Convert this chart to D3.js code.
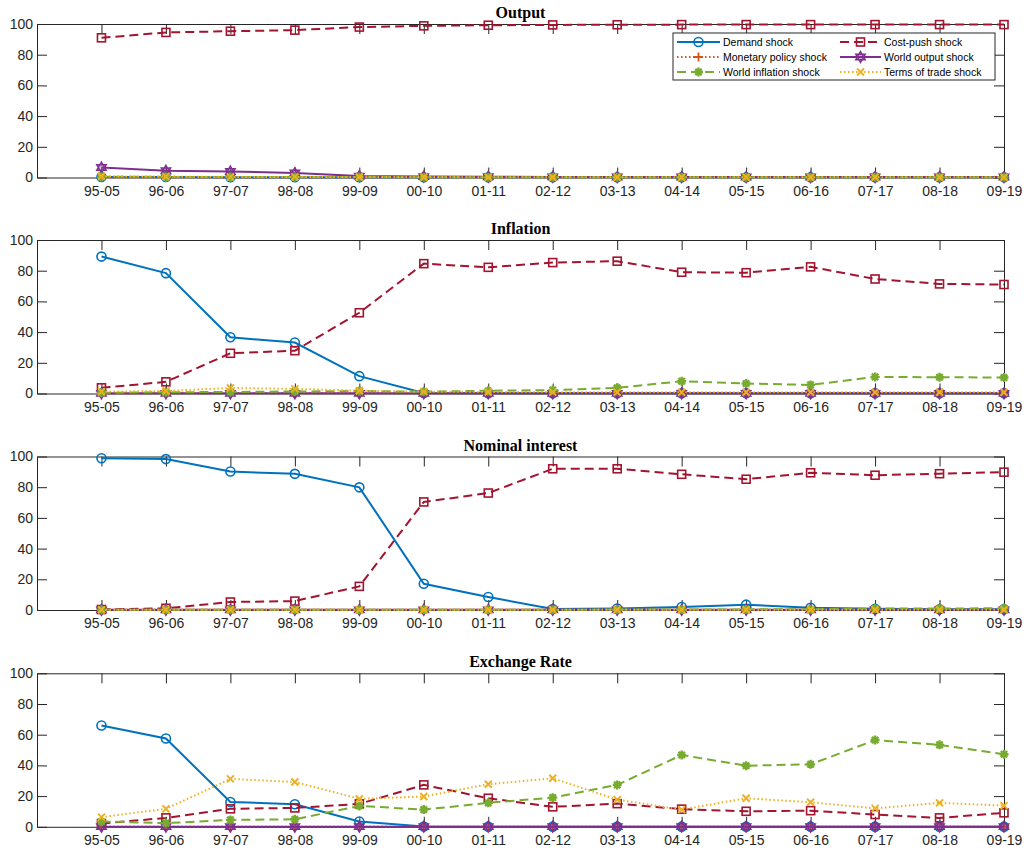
<!DOCTYPE html>
<html>
<head>
<meta charset="utf-8">
<script src="https://cdn.jsdelivr.net/npm/d3@7"></script>
<style>
  html, body { margin: 0; padding: 0; background: #fff; }
  svg { display: block; }
</style>
</head>
<body>
<svg id="chart" width="1026" height="850"></svg>
<script>
// ---------- DATA ----------
const categories = ["95-05","96-06","97-07","98-08","99-09","00-10","01-11","02-12","03-13","04-14","05-15","06-16","07-17","08-18","09-19"];
const yTicks = [0, 20, 40, 60, 80, 100];
const panelTitles = ["Output", "Inflation", "Nominal interest", "Exchange Rate"];
const seriesNames = ["Demand shock", "Cost-push shock", "Monetary policy shock", "World output shock", "World inflation shock", "Terms of trade shock"];

// Output
const outDemand   = [0.3,0.3,0.2,0.2,0.2,0.2,0.2,0.2,0.2,0.2,0.2,0.2,0.2,0.2,0.2];
const outCost     = [91,94.5,95.3,96,98,98.8,99.2,99.4,99.5,99.6,99.6,99.6,99.6,99.6,99.6];
const outMonetary = [0.1,0.1,0.1,0.1,0.1,0.1,0.1,0.1,0.1,0.1,0.1,0.1,0.1,0.1,0.1];
const outWorldOut = [6.5,4.4,3.9,2.9,0.9,0.6,0.5,0.4,0.3,0.3,0.3,0.3,0.3,0.3,0.3];
const outWorldInf = [0.5,0.4,0.3,0.3,0.3,0.2,0.2,0.2,0.2,0.2,0.2,0.2,0.2,0.2,0.2];
const outTot      = [0.8,0.6,0.4,0.4,0.3,0.3,0.2,0.2,0.2,0.2,0.2,0.2,0.2,0.2,0.2];

// Inflation
const infDemand   = [89.2,78.4,36.6,33.2,11.3,0.3,0.2,0.2,0.2,0.2,0.2,0.2,0.2,0.2,0.2];
const infCost     = [3.7,7.6,26.2,27.9,52.6,84.6,82.2,85.3,86.2,79,78.7,82.5,74.6,71.4,71];
const infMonetary = [0.2,0.2,0.2,0.2,0.2,0.2,0.2,0.2,0.2,0.2,0.2,0.2,0.2,0.2,0.2];
const infWorldOut = [0.1,0.1,0.1,0.1,0.1,0.1,0.1,0.1,0.1,0.1,0.1,0.1,0.1,0.1,0.1];
const infWorldInf = [0.5,0.8,1.0,1.3,1.6,1.2,1.8,2.2,3.7,8,6.5,5.6,10.8,10.6,10.4];
const infTot      = [1.2,1.6,3.6,3.0,1.8,1.2,1.0,0.9,0.8,0.8,0.8,0.8,0.8,0.8,0.8];

// Nominal interest
const intDemand   = [98.9,98.3,90.2,88.7,79.9,17.1,8.5,0.6,1.0,2.0,3.5,1.5,0.8,0.5,0.5];
const intCost     = [0.3,1.1,5.2,5.8,15.4,70.4,76.2,92,92,88.4,85.2,89.4,87.8,88.8,89.8];
const intMonetary = [0.1,0.1,0.1,0.1,0.1,0.1,0.1,0.1,0.1,0.1,0.1,0.1,0.1,0.1,0.1];
const intWorldOut = [0.1,0.1,0.1,0.1,0.1,0.1,0.1,0.1,0.1,0.1,0.1,0.1,0.1,0.1,0.1];
const intWorldInf = [0.1,0.1,0.1,0.1,0.1,0.1,0.1,0.1,0.3,0.3,0.4,0.5,0.9,1.0,1.1];
const intTot      = [0.2,0.2,0.2,0.2,0.2,0.2,0.2,0.2,0.2,0.2,0.2,0.2,0.2,0.2,0.2];

// Exchange rate
const exDemand    = [66,57.5,16.2,14.7,3.5,0.2,0.1,0.1,0.1,0.1,0.1,0.1,0.1,0.1,0.1];
const exCost      = [2.1,5.8,11.7,12.3,14.9,27.3,18.6,13,15.1,11.5,10.1,10.5,8,5.8,9.1];
const exMonetary  = [0.1,0.1,0.1,0.1,0.1,0.1,0.1,0.1,0.1,0.1,0.1,0.1,0.1,0.1,0.1];
const exWorldOut  = [0.1,0.1,0.1,0.1,0.1,0.1,0.1,0.1,0.1,0.1,0.1,0.1,0.1,0.1,0.1];
const exWorldInf  = [3.5,2.4,4.5,4.9,13.6,11.2,15.6,19,27.3,46.8,39.8,40.7,56.5,53.4,47.3];
const exTot       = [6.3,11.7,31.2,29.2,18.2,19.7,27.7,31.6,17.7,11.2,18.6,16,12,15.6,13.8];

const panelData = [
  [outDemand, outCost, outMonetary, outWorldOut, outWorldInf, outTot],
  [infDemand, infCost, infMonetary, infWorldOut, infWorldInf, infTot],
  [intDemand, intCost, intMonetary, intWorldOut, intWorldInf, intTot],
  [exDemand,  exCost,  exMonetary,  exWorldOut,  exWorldInf,  exTot]
];

// ---------- STYLES ----------
const styles = [
  {color: "#0072BD", dash: null,    marker: "circle"},
  {color: "#A2142F", dash: "9,5",   marker: "square"},
  {color: "#D95319", dash: "1.5,2.5", marker: "plus"},
  {color: "#7E2F8E", dash: null,    marker: "hexagram"},
  {color: "#77AC30", dash: "9,5",   marker: "asterisk"},
  {color: "#EDB120", dash: "1.5,2.5", marker: "cross"}
];

const svg = d3.select("#chart");
const axisColor = "#262626";
const left = 37, right = 1004;
const panelTops = [24, 240, 456.5, 673.3];
const panelH = 153.5;

const x = d3.scaleLinear().domain([0, 15]).range([left, right]);

function hexagramPath(r) {
  const pts = (rot) => d3.range(3).map(i => {
    const a = rot + i * 2 * Math.PI / 3;
    return [r * Math.sin(a), -r * Math.cos(a)];
  });
  const t1 = pts(0), t2 = pts(Math.PI);
  return "M" + t1.map(p => p.join(",")).join("L") + "Z" + "M" + t2.map(p => p.join(",")).join("L") + "Z";
}

function drawMarker(g, type, color, cx, cy) {
  if (type === "circle") {
    g.append("circle").attr("cx", cx).attr("cy", cy).attr("r", 4.5)
      .attr("fill", "none").attr("stroke", color).attr("stroke-width", 1.6);
  } else if (type === "square") {
    g.append("rect").attr("x", cx - 4).attr("y", cy - 4).attr("width", 8).attr("height", 8)
      .attr("fill", "none").attr("stroke", color).attr("stroke-width", 1.6);
  } else if (type === "plus") {
    g.append("path").attr("d", `M${cx-4.5},${cy}H${cx+4.5}M${cx},${cy-4.5}V${cy+4.5}`)
      .attr("stroke", color).attr("stroke-width", 1.8).attr("fill", "none");
  } else if (type === "cross") {
    g.append("path").attr("d", `M${cx-3.5},${cy-3.5}L${cx+3.5},${cy+3.5}M${cx-3.5},${cy+3.5}L${cx+3.5},${cy-3.5}`)
      .attr("stroke", color).attr("stroke-width", 2).attr("fill", "none");
  } else if (type === "asterisk") {
    const r = 4.5, d = 3.2;
    g.append("path").attr("d", `M${cx-r},${cy}H${cx+r}M${cx},${cy-r}V${cy+r}M${cx-d},${cy-d}L${cx+d},${cy+d}M${cx-d},${cy+d}L${cx+d},${cy-d}`)
      .attr("stroke", color).attr("stroke-width", 2.4).attr("fill", "none");
  } else if (type === "hexagram") {
    g.append("path").attr("d", hexagramPath(5.5)).attr("transform", `translate(${cx},${cy})`)
      .attr("fill", color).attr("fill-opacity", 0.35).attr("stroke", color).attr("stroke-width", 1.4);
  }
}

panelData.forEach((series, p) => {
  const top = panelTops[p], bottom = top + panelH;
  const y = d3.scaleLinear().domain([0, 100]).range([bottom, top]);
  const g = svg.append("g");

  // title
  g.append("text").attr("x", (left + right) / 2).attr("y", top - 6)
    .attr("text-anchor", "middle")
    .attr("font-family", "'Liberation Serif', 'Times New Roman', serif")
    .attr("font-weight", "bold").attr("font-size", 16).attr("fill", "#000")
    .text(panelTitles[p]);

  // axes with ticks inward
  const xAxisB = d3.axisBottom(x).tickValues(d3.range(1, 16)).tickFormat(d => categories[d - 1]).tickSizeInner(-10).tickSizeOuter(0).tickPadding(8);
  const gx = g.append("g").attr("transform", `translate(0,${bottom})`).call(xAxisB);
  const xAxisT = d3.axisTop(x).tickValues(d3.range(1, 16)).tickFormat("").tickSizeInner(-10).tickSizeOuter(0);
  const gxt = g.append("g").attr("transform", `translate(0,${top})`).call(xAxisT);
  const yAxisL = d3.axisLeft(y).tickValues(yTicks).tickSizeInner(-10).tickSizeOuter(0).tickPadding(4);
  const gy = g.append("g").attr("transform", `translate(${left},0)`).call(yAxisL);
  const yAxisR = d3.axisRight(y).tickValues(yTicks).tickFormat("").tickSizeInner(-10).tickSizeOuter(0);
  const gyr = g.append("g").attr("transform", `translate(${right},0)`).call(yAxisR);

  [gx, gxt, gy, gyr].forEach(a => {
    a.selectAll("path.domain").attr("stroke", axisColor).attr("stroke-width", 1);
    a.selectAll(".tick line").attr("stroke", axisColor).attr("stroke-width", 1);
    a.selectAll("text").attr("font-family", "'Liberation Sans', Arial, sans-serif").attr("font-size", 14).attr("fill", axisColor);
  });
  gx.selectAll("text").attr("dy", "0.72em");

  // series lines
  const line = d3.line().x((d, i) => x(i + 1)).y(d => y(d));
  series.forEach((vals, s) => {
    const st = styles[s];
    const sg = g.append("g");
    sg.append("path").datum(vals).attr("d", line)
      .attr("fill", "none").attr("stroke", st.color).attr("stroke-width", 2)
      .attr("stroke-dasharray", st.dash);
    vals.forEach((v, i) => drawMarker(sg, st.marker, st.color, x(i + 1), y(v)));
  });
});

// ---------- LEGEND ----------
const lg = svg.append("g");
const lx = 673, ly = 33, lw = 322, lh = 47;
lg.append("rect").attr("x", lx).attr("y", ly).attr("width", lw).attr("height", lh)
  .attr("fill", "#fff").attr("stroke", axisColor).attr("stroke-width", 1);
const legendOrder = [0, 1, 2, 3, 4, 5];
legendOrder.forEach((s, k) => {
  const col = k % 2, row = Math.floor(k / 2);
  const x0 = col === 0 ? 677 : 840;
  const x1 = col === 0 ? 720 : 881;
  const cy = 42 + row * 15;
  const st = styles[s];
  lg.append("path").attr("d", `M${x0},${cy}H${x1}`).attr("stroke", st.color).attr("stroke-width", 2)
    .attr("stroke-dasharray", st.dash).attr("fill", "none");
  drawMarker(lg, st.marker, st.color, (x0 + x1) / 2, cy);
  lg.append("text").attr("x", x1 + 3).attr("y", cy).attr("dy", "0.35em")
    .attr("font-family", "'Liberation Sans', Arial, sans-serif").attr("font-size", 10.5).attr("fill", "#000")
    .text(seriesNames[s]);
});
</script>
</body>
</html>
